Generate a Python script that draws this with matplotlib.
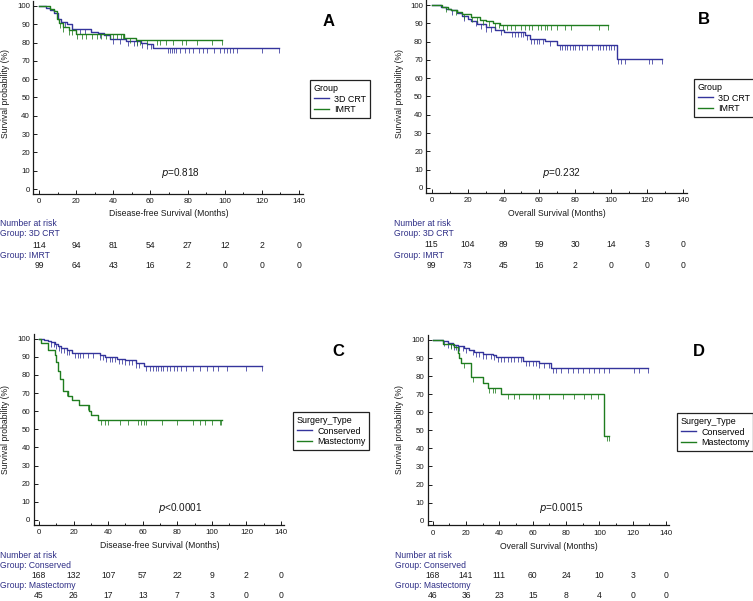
import numpy as np
import matplotlib.pyplot as plt
from matplotlib.ticker import MultipleLocator
from matplotlib.transforms import blended_transform_factory

plt.rcParams['font.family'] = ['Liberation Sans', 'DejaVu Sans']

W, H = 753, 601
BLUE = '#34349c'
GREEN = '#1f7d1f'
NAVY = '#2e2e86'
INK = '#1a1a1a'

risk_times = [0, 20, 40, 60, 80, 100, 120, 140]

# --- A: disease-free survival, 3D CRT vs IMRT ---
a_crt_times = [4, 6, 8, 10, 12, 15, 18, 28, 32, 35, 38, 47, 55, 58, 61.5]
a_crt_surv = [99, 98, 96, 93, 91.5, 90, 87.5, 86, 85, 84, 82, 81, 80, 79, 77]
a_crt_end = 129
a_crt_cens = [14, 22, 25, 33, 40, 43.5, 48, 51, 52.5, 55.5, 58, 60.5, 69.5, 70.5, 71.5,
              72.5, 74, 76, 78.5, 81, 83, 86, 88.5, 90.5, 94, 97.5, 99.5, 101, 103, 104.5,
              106.5, 120, 129]
a_imrt_times = [6, 8, 9.5, 10.5, 13, 16, 20, 46, 52]
a_imrt_surv = [98.5, 97, 93, 90.5, 88.5, 87, 84.5, 82.5, 81.5]
a_imrt_end = 98.5
a_imrt_cens = [11.5, 13, 16, 18, 20.5, 23, 25.5, 28.5, 31, 33.5, 36, 38, 40, 42, 44, 45.5,
               49, 52.5, 54.5, 58, 63.5, 65, 68.5, 72, 77, 79, 85, 93, 98.5]
a_risk_crt = [114, 94, 81, 54, 27, 12, 2, 0]
a_risk_imrt = [99, 64, 43, 16, 2, 0, 0, 0]

# --- B: overall survival, 3D CRT vs IMRT ---
b_crt_times = [5, 8, 11, 14, 17, 20, 22, 25, 30, 35, 40, 52, 55, 63, 70, 103]
b_crt_surv = [99, 98, 97, 95.5, 94, 92.5, 91, 89.5, 88, 86.5, 85, 83.5, 81.5, 80.5, 78, 70.5]
b_crt_end = 128.5
b_crt_cens = [11.5, 18, 24.5, 27.5, 30, 33, 38.5, 45, 46.5, 48, 49.5, 51, 53, 55.5, 57,
              58.5, 60, 62, 66, 71.5, 72.5, 74, 75.5, 77, 78.5, 80, 82, 84, 86.5, 89.5,
              92.5, 94, 95.5, 97, 98.5, 100, 101.5, 104, 105.5, 107.5, 121, 123, 128.5]
b_imrt_times = [6, 9, 11, 14, 17, 22, 27, 30, 34, 38]
b_imrt_surv = [99, 98, 97, 96, 95, 93.5, 92, 91, 90, 89]
b_imrt_end = 98
b_imrt_cens = [8, 13.5, 18, 22.5, 25.5, 28.5, 32, 35, 37.5, 39.5, 42, 44, 46.5, 49.5, 52,
               54, 56, 59, 61, 63, 64.5, 66.5, 70, 74.5, 77.5, 93, 98]
b_risk_crt = [115, 104, 89, 59, 30, 14, 3, 0]
b_risk_imrt = [99, 73, 45, 16, 2, 0, 0, 0]

# --- C: disease-free survival, Conserved vs Mastectomy ---
c_cons_times = [3, 5, 7, 9, 11, 13, 16, 19, 35, 38, 45, 50, 56, 61]
c_cons_surv = [99.5, 99, 98, 97, 96, 95, 94, 92, 91, 90, 89, 88, 86.5, 85]
c_cons_end = 129
c_cons_cens = [7, 8.5, 10, 11.5, 13, 14.5, 16, 17.5, 21, 22.5, 24, 25.5, 28.5, 31.5, 35,
               37, 39, 41, 42.5, 44, 46, 48, 50, 52, 54, 56, 58, 62, 64, 66, 67.5, 69,
               70.5, 72, 74, 76, 78, 80, 82, 85, 89, 93, 97, 100.5, 103.5, 108.5, 120, 129]
c_mast_times = [1, 5, 9, 10, 11, 12, 14, 17, 19, 23, 29, 30, 34]
c_mast_surv = [97.8, 93.5, 91, 87, 82, 78, 71, 68.5, 66, 63.5, 60, 58, 55]
c_mast_end = 106
c_mast_cens = [16, 28.5, 36, 38, 40, 47, 51.5, 57.5, 59, 60.5, 62, 71, 80, 89, 93, 96,
               100, 104.5, 105.5]
c_risk_cons = [168, 132, 107, 57, 22, 9, 2, 0]
c_risk_mast = [45, 26, 17, 13, 7, 3, 0, 0]

# --- D: overall survival, Conserved vs Mastectomy ---
d_cons_times = [6, 9, 12, 15, 19, 22, 25, 30, 36, 38, 54, 64, 71]
d_cons_surv = [99.5, 98.5, 97.5, 96.5, 95.5, 94.5, 93.5, 92.5, 91.5, 90.5, 88.5, 87, 84.5]
d_cons_end = 129
d_cons_cens = [7, 9, 11, 12.5, 14, 16, 18, 20, 24, 26, 28, 30, 32, 35, 37, 39, 41, 43, 45,
               47, 49, 51, 53, 56, 58, 60, 62, 64, 67, 70, 72, 74, 77, 81, 84, 87, 90, 94,
               97, 100, 103, 106, 121, 124, 129]
d_mast_times = [6, 13, 15, 16, 17, 23, 30, 33, 41, 103]
d_mast_surv = [98, 96, 93, 90, 87, 79.5, 76, 73.5, 70, 47]
d_mast_end = 105.5
d_mast_cens = [11, 19, 24, 34, 36, 37.5, 45, 49, 52, 60, 62, 63.5, 70, 78, 85, 91, 95, 99,
               104.5, 105.5]
d_risk_cons = [168, 141, 111, 60, 24, 10, 3, 0]
d_risk_mast = [46, 36, 23, 15, 8, 4, 0, 0]


def level(times, surv, t):
    vals = [100] + list(surv)
    return vals[np.searchsorted(times, t, side='right')]


def draw_panel(fig, lay, curves, risks, xlabel, ptext, letter, leg_title):
    sx = (lay['x140'] - lay['x0']) / 140
    sy = (lay['y0'] - lay['y100']) / 100
    xmin, xmax, ymin, ymax = -3, 142, -2.5, 102.5
    left = lay['x0'] + xmin * sx
    right = lay['x0'] + xmax * sx
    bottom = lay['y0'] - ymin * sy
    top = lay['y0'] - ymax * sy
    ax = fig.add_axes([left / W, 1 - bottom / H, (right - left) / W, (bottom - top) / H])
    ax.set_xlim(xmin, xmax)
    ax.set_ylim(ymin, ymax)

    handles = []
    for name, times, surv, end, cens, color in curves:
        xs = [0] + list(times) + [end]
        ys = [100] + list(surv) + [surv[-1]]
        h, = ax.step(xs, ys, where='post', color=color, lw=1.0, label=name)
        handles.append(h)
        cy = [level(times, surv, t) for t in cens]
        ax.plot(cens, cy, ls='none', marker=3, ms=3.4, mew=0.65, color=color, alpha=0.85)

    for s in ['top', 'right']:
        ax.spines[s].set_visible(False)
    for s in ['left', 'bottom']:
        ax.spines[s].set_linewidth(0.9)
        ax.spines[s].set_color(INK)
    ax.set_xticks(range(0, 141, 20))
    ax.xaxis.set_minor_locator(MultipleLocator(10))
    ax.set_yticks(range(0, 101, 10))
    ax.tick_params(axis='both', which='major', direction='in', length=3.2, width=0.7,
                   labelsize=5.7, colors=INK, pad=2.5)
    ax.tick_params(axis='x', which='minor', direction='in', length=1.6, width=0.7, colors=INK)
    ax.tick_params(axis='x', which='major', pad=3.5)

    fy = blended_transform_factory(ax.transData, fig.transFigure)
    ax.text(70, 1 - lay['xlab_y'] / H, xlabel, transform=fy, ha='center', va='center',
            fontsize=6.2, color=INK)
    fig.text(lay['ylab_x'] / W, 1 - lay['ylab_y'] / H, 'Survival probability (%)',
             rotation=90, ha='center', va='center', fontsize=6.2, color=INK)
    fig.text(lay['p'][0] / W, 1 - lay['p'][1] / H, ptext, ha='center', va='center',
             fontsize=7.2, color=INK)
    fig.text(lay['letter'][0] / W, 1 - lay['letter'][1] / H, letter, ha='center',
             va='center', fontsize=12, fontweight='bold', color='black')

    leg = ax.legend(handles=handles, title=leg_title, loc='upper left',
                    bbox_to_anchor=(lay['leg'][0] / W, 1 - lay['leg'][1] / H),
                    bbox_transform=fig.transFigure, borderaxespad=0, fontsize=6.4,
                    title_fontsize=6.4, alignment='left', fancybox=False, framealpha=1,
                    edgecolor='#222222', handlelength=1.7, handletextpad=0.6,
                    labelspacing=0.22, borderpad=0.4)
    leg.get_frame().set_linewidth(0.9)

    # number at risk table
    rows = lay['rows']
    lx = lay['lab_x'] / W
    fig.text(lx, 1 - rows[0] / H, 'Number at risk', ha='left', va='center',
             fontsize=6.2, color=NAVY)
    for k, (gname, counts) in enumerate(risks):
        fig.text(lx, 1 - rows[1 + 2 * k] / H, 'Group: ' + gname, ha='left', va='center',
                 fontsize=6.2, color=NAVY)
        for t, n in zip(risk_times, counts):
            ax.text(t, 1 - rows[2 + 2 * k] / H, str(n), transform=fy, ha='center',
                    va='center', fontsize=6.2, color=INK)
    return ax


fig = plt.figure(figsize=(W / 100, H / 100), dpi=100)

lay_a = dict(x0=39, x140=299, y0=189, y100=6, xlab_y=213, ylab_x=6, ylab_y=93,
             p=(180, 173), letter=(329, 21), leg=(310, 80), lab_x=0,
             rows=[224, 234, 245, 255, 265])
lay_b = dict(x0=431.7, x140=683, y0=188, y100=5, xlab_y=213, ylab_x=400, ylab_y=93,
             p=(561, 173), letter=(704, 20), leg=(694, 79), lab_x=394,
             rows=[224, 234, 244.5, 255, 265])
lay_c = dict(x0=39, x140=281, y0=520, y100=338.7, xlab_y=546, ylab_x=6, ylab_y=429,
             p=(180, 508), letter=(338, 352), leg=(293, 412), lab_x=0,
             rows=[555, 565.5, 575.5, 585.5, 595.5])
lay_d = dict(x0=432.7, x140=666, y0=520.7, y100=340, xlab_y=546.5, ylab_x=400, ylab_y=430,
             p=(561, 508), letter=(699, 352), leg=(677, 413), lab_x=395,
             rows=[556, 566, 576, 586, 596])

draw_panel(fig, lay_a,
           [('3D CRT', a_crt_times, a_crt_surv, a_crt_end, a_crt_cens, BLUE),
            ('IMRT', a_imrt_times, a_imrt_surv, a_imrt_end, a_imrt_cens, GREEN)],
           [('3D CRT', a_risk_crt), ('IMRT', a_risk_imrt)],
           'Disease-free Survival (Months)', '$\\it{p}$=0.818', 'A', 'Group')
draw_panel(fig, lay_b,
           [('3D CRT', b_crt_times, b_crt_surv, b_crt_end, b_crt_cens, BLUE),
            ('IMRT', b_imrt_times, b_imrt_surv, b_imrt_end, b_imrt_cens, GREEN)],
           [('3D CRT', b_risk_crt), ('IMRT', b_risk_imrt)],
           'Overall Survival (Months)', '$\\it{p}$=0.232', 'B', 'Group')
draw_panel(fig, lay_c,
           [('Conserved', c_cons_times, c_cons_surv, c_cons_end, c_cons_cens, BLUE),
            ('Mastectomy', c_mast_times, c_mast_surv, c_mast_end, c_mast_cens, GREEN)],
           [('Conserved', c_risk_cons), ('Mastectomy', c_risk_mast)],
           'Disease-free Survival (Months)', '$\\it{p}$<0.0001', 'C', 'Surgery_Type')
draw_panel(fig, lay_d,
           [('Conserved', d_cons_times, d_cons_surv, d_cons_end, d_cons_cens, BLUE),
            ('Mastectomy', d_mast_times, d_mast_surv, d_mast_end, d_mast_cens, GREEN)],
           [('Conserved', d_risk_cons), ('Mastectomy', d_risk_mast)],
           'Overall Survival (Months)', '$\\it{p}$=0.0015', 'D', 'Surgery_Type')

fig.savefig('out.png', dpi=100)
